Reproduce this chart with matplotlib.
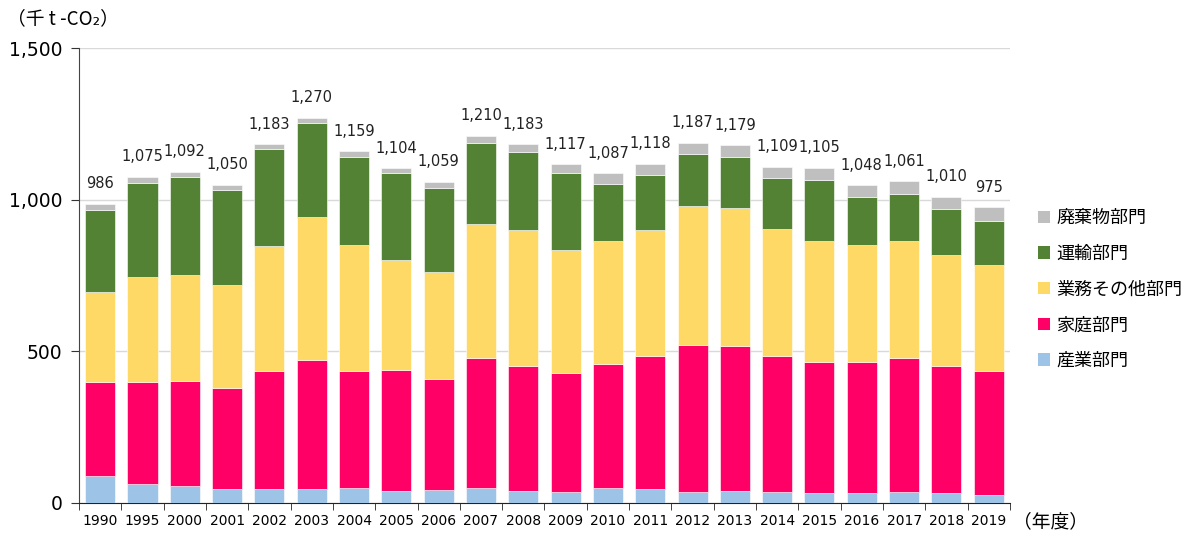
import numpy as np
import matplotlib
matplotlib.use("Agg")
import matplotlib.pyplot as plt
from matplotlib.patches import Patch

plt.rcParams['font.family'] = ['DejaVu Sans', 'Noto Sans CJK JP']

years = ["1990", "1995", "2000", "2001", "2002", "2003", "2004", "2005", "2006", "2007", "2008",
         "2009", "2010", "2011", "2012", "2013", "2014", "2015", "2016", "2017", "2018", "2019"]

# 千t-CO2
industry = [90, 62, 57, 46, 45, 45, 50, 40, 44, 49, 40, 35, 51, 46, 37, 41, 35, 33, 33, 35, 33, 27]
household = [308, 336, 345, 332, 391, 428, 385, 400, 365, 428, 412, 395, 408, 438, 483, 478, 449, 432, 431, 443, 419, 408]
business = [299, 347, 349, 341, 412, 469, 415, 361, 351, 444, 449, 403, 405, 416, 458, 453, 418, 400, 388, 385, 367, 349]
transport = [270, 310, 324, 313, 319, 310, 292, 286, 279, 267, 256, 255, 188, 183, 173, 168, 170, 200, 158, 156, 151, 146]
waste = [19, 20, 17, 18, 16, 18, 17, 17, 20, 22, 26, 29, 35, 35, 36, 39, 37, 40, 38, 42, 40, 45]
totals = [986, 1075, 1092, 1050, 1183, 1270, 1159, 1104, 1059, 1210, 1183,
          1117, 1087, 1118, 1187, 1179, 1109, 1105, 1048, 1061, 1010, 975]

series = [
    ("産業部門", industry, "#9DC3E6"),
    ("家庭部門", household, "#FF0066"),
    ("業務その他部門", business, "#FFD966"),
    ("運輸部門", transport, "#548235"),
    ("廃棄物部門", waste, "#BFBFBF"),
]

fig = plt.figure(figsize=(11.85, 5.36), dpi=100)
ax = fig.add_axes([0.0667, 0.0616, 0.7855, 0.8488])

x = np.arange(len(years))
bottom = np.zeros(len(years))
for name, vals, col in series:
    ax.bar(x, vals, width=0.71, bottom=bottom, color=col, edgecolor="white",
           linewidth=0.4, zorder=3)
    bottom += np.array(vals)

for xi, t in zip(x, totals):
    ax.annotate(f"{t:,}", (xi, bottom[xi]), xytext=(0, 20), textcoords="offset pixels",
                ha="center", va="center", fontsize=10.5, color="#222222")

ax.set_xlim(-0.5, len(years) - 0.5)
ax.set_ylim(0, 1500)
ax.set_yticks([0, 500, 1000, 1500])
ax.set_yticklabels(["0", "500", "1,000", "1,500"], fontsize=13.5)
ax.yaxis.grid(True, color="#D9D9D9", linewidth=1, zorder=0)
ax.tick_params(axis="y", length=6, color="#333333", pad=6)

ax.set_xticks(x)
ax.set_xticklabels(years, fontsize=10)
ax.tick_params(axis="x", length=0, pad=8)
ax.set_xticks(np.arange(-0.5, len(years), 1.0), minor=True)
ax.tick_params(axis="x", which="minor", length=5, color="#222222")

for s in ["top", "right"]:
    ax.spines[s].set_visible(False)
ax.spines["left"].set_color("#444444")
ax.spines["bottom"].set_color("#222222")

handles = [Patch(facecolor=col, label=name) for name, vals, col in series][::-1]
fig.legend(handles=handles, loc="upper left", bbox_to_anchor=(0.862, 0.64), frameon=False,
           prop={"family": ["Noto Sans CJK JP"], "size": 13}, handlelength=0.68,
           handleheight=0.68, handletextpad=0.35, labelspacing=0.98)

fig.text(0.006, 0.965, "（千 t -CO₂）", fontsize=13.5, va="center", ha="left",
         family=["Noto Sans CJK JP", "DejaVu Sans"])
fig.text(0.855, 0.026, "（年度）", fontsize=13.5, va="center", ha="left",
         family=["Noto Sans CJK JP"])

fig.savefig("out.png", dpi=100)
